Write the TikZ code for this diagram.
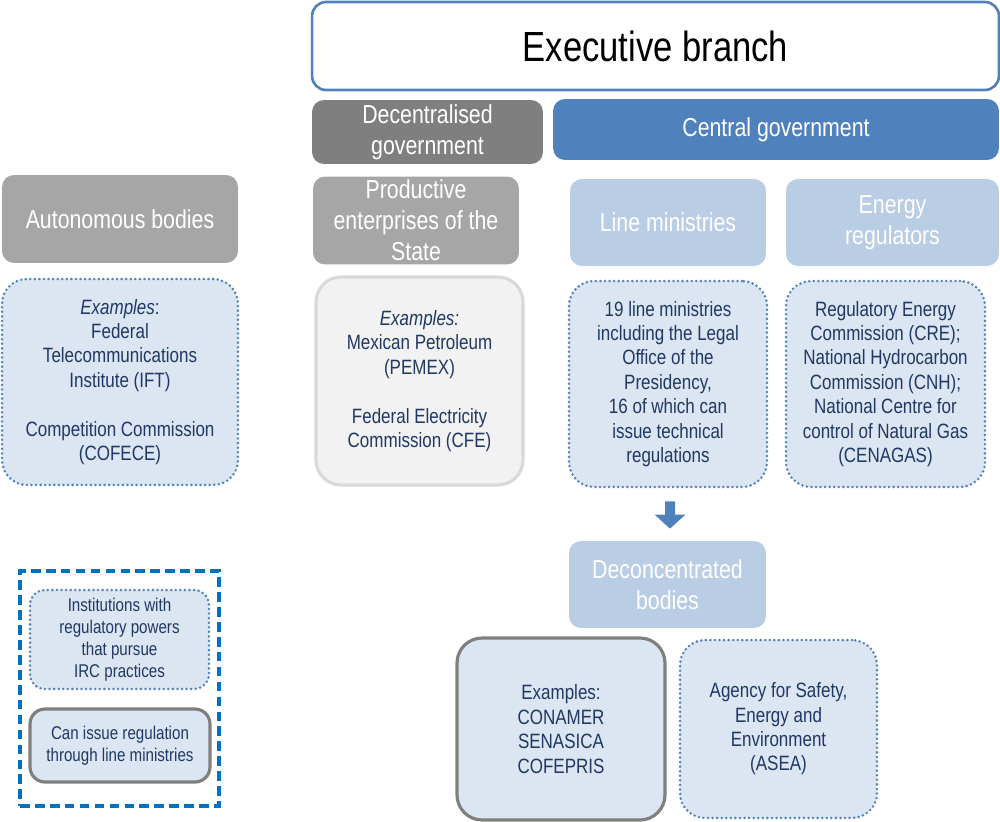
\documentclass[tikz,border=0pt]{standalone}
\usepackage{fontspec}
\setmainfont{Liberation Sans}[FakeStretch=0.82]
\usetikzlibrary{arrows.meta,calc}
\definecolor{exblue}{HTML}{4F81BD}
\definecolor{hdlight}{HTML}{B9CDE5}
\definecolor{boxfill}{HTML}{DCE6F2}
\definecolor{navytxt}{HTML}{1F3864}
\definecolor{legblue}{HTML}{0070C0}
\definecolor{gdark}{HTML}{7F7F7F}
\definecolor{gmid}{HTML}{A6A6A6}
\definecolor{glight}{HTML}{F2F2F2}
\definecolor{gline}{HTML}{D9D9D9}

\begin{document}
\begin{tikzpicture}[x=0.02cm, y=-0.02cm,
    box/.style={rounded corners=0.24cm, inner sep=2pt, align=center},
    hd/.style={box, text=white, font=\fontsize{14.8}{17.6}\selectfont},
    ex/.style={box, rounded corners=0.5cm, text=navytxt,
               font=\fontsize{11.8}{13.9}\selectfont},
    dotbox/.style={ex, fill=boxfill, draw=exblue, line width=1.6pt,
                   dash pattern=on 0pt off 2.6pt, line cap=round},
    greybox/.style={ex, draw=gdark, line width=1.8pt, fill=boxfill},
    leg/.style={font=\fontsize{10.5}{12.5}\selectfont, rounded corners=0.3cm},
    blockarr/.style={line width=0.2cm, draw=exblue,
                     -{Triangle[length=0.28cm, width=0.6cm]}},
  ]
  \useasboundingbox (0,0) rectangle (1000,821);

  % top row: executive branch and its two parts
  \node[box, draw=exblue, line width=1.5pt, fill=white, rounded corners=0.28cm,
        minimum width=13.74cm, minimum height=1.76cm,
        font=\fontsize{24}{28}\selectfont] (exec) at (655.5,46) {Executive branch};
  \node[hd, fill=gdark, minimum width=4.62cm, minimum height=1.28cm] (decen)
    at (427.5,132) {Decentralised\\government};
  \node[hd, fill=exblue, minimum width=8.92cm, minimum height=1.22cm] (central)
    at (776,129.5) {Central government};

  % headers
  \node[hd, fill=gmid, minimum width=4.72cm, minimum height=1.76cm] (auto)
    at (120,219) {Autonomous bodies};
  \node[hd, fill=gmid, minimum width=4.12cm, minimum height=1.74cm] (prod)
    at (416,220.5) {Productive\\enterprises of the\\State};
  \node[hd, fill=hdlight, minimum width=3.92cm, minimum height=1.74cm] (linehd)
    at (668,222.5) {Line ministries};
  \node[hd, fill=hdlight, minimum width=4.26cm, minimum height=1.74cm] (energyhd)
    at (892.5,222.5) {Energy\\regulators};

  % example boxes
  \node[dotbox, minimum width=4.72cm, minimum height=4.12cm] (autoex) at (120,382)
    {\textit{Examples}:\\Federal\\Telecommunications\\Institute (IFT)\\[0.49cm]
     Competition Commission\\(COFECE)};
  \node[ex, fill=glight, draw=gline, line width=1.8pt, minimum width=4.14cm,
        minimum height=4.16cm] (prodex) at (419.5,381)
    {\textit{Examples:}\\Mexican Petroleum\\(PEMEX)\\[0.49cm]
     Federal Electricity\\Commission (CFE)};
  \node[dotbox, minimum width=3.96cm, minimum height=4.12cm] (lineex) at (668,384)
    {19 line ministries\\including the Legal\\Office of the\\Presidency,\\
     16 of which can\\issue technical\\regulations};
  \node[dotbox, minimum width=3.98cm, minimum height=4.12cm] (energyex)
    at (885.5,384)
    {Regulatory Energy\\Commission (CRE);\\National Hydrocarbon\\Commission (CNH);\\
     National Centre for\\control of Natural Gas\\(CENAGAS)};

  % deconcentrated bodies
  \node[hd, fill=hdlight, minimum width=3.94cm, minimum height=1.74cm] (decon)
    at (667.5,584.5) {Deconcentrated\\bodies};
  \draw[blockarr] ($(lineex.south)+(2,13)$) -- ($(decon.north)+(2.5,-12)$);
  \node[greybox, minimum width=4.16cm, minimum height=3.64cm] (conamer)
    at (561,729) {Examples:\\CONAMER\\SENASICA\\COFEPRIS};
  \node[dotbox, minimum width=3.94cm, minimum height=3.56cm] (asea)
    at (778.5,729) {Agency for Safety,\\Energy and\\Environment\\(ASEA)};

  % legend
  \node[draw=legblue, line width=2pt, dash pattern=on 5.5pt off 3pt,
        minimum width=3.98cm, minimum height=4.7cm] (legend) at (119.5,688.5) {};
  \node[dotbox, leg, minimum width=3.58cm, minimum height=1.98cm] (legdot)
    at (119.5,639.5) {Institutions with\\regulatory powers\\that pursue\\IRC practices};
  \node[greybox, leg, minimum width=3.6cm, minimum height=1.46cm] (leggrey)
    at (120,745.5) {Can issue regulation\\through line ministries};
\end{tikzpicture}
\end{document}
